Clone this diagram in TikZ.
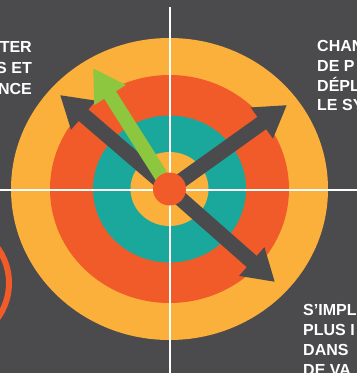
\documentclass[tikz,border=0pt]{standalone}
\usepackage{fontspec}
\setmainfont{Liberation Sans}
\usetikzlibrary{arrows.meta}
\definecolor{bg}{HTML}{4B4B4D}
\definecolor{ringyel}{HTML}{FBB03B}
\definecolor{ringred}{HTML}{F15A29}
\definecolor{ringteal}{HTML}{1BA89C}
\definecolor{arrgreen}{HTML}{8DC63F}
\definecolor{arrdark}{HTML}{4B4B4D}
\tikzset{
  lbl/.style={text=white, font=\fontsize{16}{18}\selectfont\bfseries, inner sep=0pt},
  darrow/.style={draw=arrdark, line width=15pt, -{Triangle[width=36pt,length=31pt]}},
  garrow/.style={draw=arrgreen, line width=14pt, -{Triangle[width=35pt,length=32pt]}},
  guide/.style={draw=white, line width=1.8pt}
}
\begin{document}
\begin{tikzpicture}[x=1pt,y=-1pt]
\useasboundingbox (0,0) rectangle (357,373);
\clip (0,0) rectangle (357,373);
\fill[bg] (0,0) rectangle (357,373);
% partial ring at left
\draw[ringred, line width=6pt] (-51,283) circle[radius=60pt];
% target rings
\coordinate (c) at (169.5,189);
\fill[ringyel] (c) ellipse[x radius=158.5pt, y radius=151pt];
\fill[ringred] (c) ellipse[x radius=119.5pt, y radius=114pt];
\fill[ringteal] (c) ellipse[x radius=76.5pt, y radius=73.5pt];
\fill[ringyel] (c) ellipse[x radius=39pt, y radius=37pt];
% guide lines
\coordinate (hl) at (0,190);
\coordinate (hr) at (357,190);
\coordinate (vt) at (170,7);
\coordinate (vb) at (170,373);
\draw[guide] (hl) -- (hr);
\draw[guide] (vt) -- (vb);
% arrows
\coordinate (t1) at (60,95);
\coordinate (t2) at (93,68);
\coordinate (t3) at (287,105);
\coordinate (t4) at (275,282);
\draw[darrow] (c) -- (t1);
\draw[darrow] (c) -- (t3);
\draw[darrow] (c) -- (t4);
\draw[garrow] (c) -- (t2);
\node[circle, fill=ringred, minimum size=33pt, inner sep=0pt] (dot) at (c) {};
% texts
\node[lbl, anchor=base east] (l1) at (32,52) {TER};
\node[lbl, anchor=base east] (l2) at (32,73) {S ET};
\node[lbl, anchor=base east] (l3) at (32,94) {NCE};
\node[lbl, anchor=base west] (r1) at (317,51) {CHAN};
\node[lbl, anchor=base west] (r2) at (317,71) {DE P};
\node[lbl, anchor=base west] (r3) at (317,91) {DÉPL};
\node[lbl, anchor=base west] (r4) at (317,110) {LE SY};
\node[lbl, anchor=base west] (b1) at (303,315) {S'IMPL};
\node[lbl, anchor=base west] (b2) at (303,335) {PLUS I};
\node[lbl, anchor=base west] (b3) at (303,355) {DANS};
\node[lbl, anchor=base west] (b4) at (303,375) {DE VA};
\end{tikzpicture}
\end{document}
